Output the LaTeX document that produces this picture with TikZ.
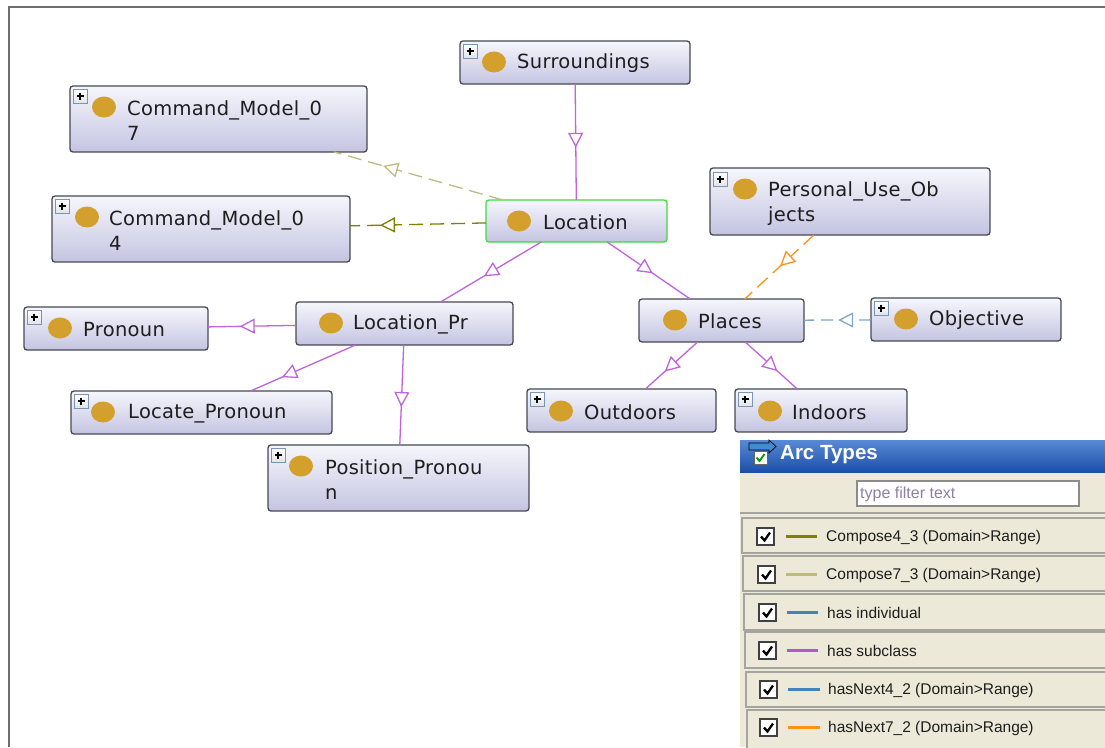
\documentclass[tikz,border=0pt]{standalone}
\usepackage{fontspec}
\usetikzlibrary{arrows.meta,decorations.markings,fit,calc}
\newfontfamily\dvs[LetterSpace=1.5]{DejaVu Sans}
\newfontfamily\lbs{Liberation Sans}
\definecolor{boxtop}{RGB}{246,246,252}
\definecolor{boxbot}{RGB}{196,196,226}
\definecolor{boxedge}{RGB}{72,72,84}
\definecolor{locedge}{RGB}{60,220,60}
\definecolor{txt}{RGB}{30,30,30}
\definecolor{gold}{RGB}{211,160,46}
\definecolor{subc}{RGB}{190,100,222}
\definecolor{oliv}{RGB}{128,128,0}
\definecolor{khak}{RGB}{189,187,125}
\definecolor{steel}{RGB}{70,130,180}
\definecolor{orng}{RGB}{255,145,20}
\definecolor{plusedge}{RGB}{120,150,180}
\definecolor{plusfill}{RGB}{225,228,232}
\definecolor{beige}{RGB}{236,233,216}
\definecolor{rowedge}{RGB}{165,165,160}
\definecolor{hdtop}{RGB}{88,138,214}
\definecolor{hdbot}{RGB}{28,78,168}
\definecolor{frame}{RGB}{110,110,110}
\definecolor{filt}{RGB}{140,130,160}
\tikzset{
  clsbox/.style={draw=boxedge, line width=1.3pt, rounded corners=3pt,
    top color=boxtop, bottom color=boxbot, inner sep=0pt, outer sep=0pt},
  lbl/.style={font=\dvs\fontsize{19.5}{25}\selectfont, text=txt, inner sep=0pt,
    anchor=west, align=left, yshift=-1.5pt},
  legtxt/.style={font=\lbs\fontsize{15.5}{18}\selectfont, text=txt, inner sep=0pt, anchor=west},
  midarrow/.style={postaction={decorate, decoration={markings,
    mark=at position #1 with {\arrow{Triangle[fill=white,length=15pt,width=15pt,line width=1.3pt]}}}}},
  subedge/.style={draw=subc, line width=1.3pt},
  olivedge/.style={draw=oliv, line width=1.3pt, dash pattern=on 14pt off 7pt},
  khakedge/.style={draw=khak, line width=1.3pt, dash pattern=on 14pt off 7pt},
  orngedge/.style={draw=orng, line width=1.3pt, dash pattern=on 14pt off 7pt},
  blueedge/.style={draw=steel!70, line width=1.3pt, dash pattern=on 12pt off 7pt},
  rowbox/.style={draw=rowedge, line width=1.5pt, fill=beige},
}
\newcommand\plusico[2]{%
  \draw[draw=plusedge, top color=white, bottom color=plusfill, line width=0.8pt] (#1,#2) rectangle ++(14,14);
  \draw[black, line width=1.5pt] (#1+3.5,#2+7) -- ++(7,0) (#1+7,#2+3.5) -- ++(0,7);}
\newcommand\golddot[2]{\fill[gold] (#1,#2) ellipse [x radius=12pt, y radius=10.5pt];}
\newcommand\chkbox[2]{%
  \draw[draw=black!75, fill=white, line width=1.2pt] (#1,#2) rectangle ++(17,17);
  \draw[black, line width=2.3pt] (#1+4,#2+8.5) -- (#1+7.5,#2+12.5) -- (#1+13,#2+4.5);}
\begin{document}
\begin{tikzpicture}[x=1pt,y=-1pt]
\useasboundingbox (0,0) rectangle (1105,747);
\fill[white] (0,0) rectangle (1105,747);
\draw[frame, line width=2pt] (9,747) -- (9,7) -- (1105,7);

% ---- class boxes
\node[clsbox, fit={(460,41) (690,84)}] (surr) {};
\node[clsbox, fit={(70,86) (367,152)}] (cm07) {};
\node[clsbox, fit={(52,196) (350,262)}] (cm04) {};
\node[clsbox, draw=locedge, fit={(486,200) (667,242)}] (loc) {};
\node[clsbox, fit={(710,168) (990,235)}] (puo) {};
\node[clsbox, fit={(24,307) (208,350)}] (pron) {};
\node[clsbox, fit={(296,302) (513,345)}] (lp) {};
\node[clsbox, fit={(639,299) (804,342)}] (places) {};
\node[clsbox, fit={(871,298) (1061,341)}] (obj) {};
\node[clsbox, fit={(71,391) (332,434)}] (locp) {};
\node[clsbox, fit={(527,389) (716,432)}] (out) {};
\node[clsbox, fit={(735,389) (907,432)}] (ind) {};
\node[clsbox, fit={(268,445) (529,511)}] (posp) {};

% ---- icons
\plusico{463}{44} \golddot{494}{62}
\plusico{73}{89}  \golddot{104}{107}
\plusico{55}{199} \golddot{87}{217}
\golddot{519}{221}
\plusico{713}{172} \golddot{745}{189}
\plusico{27}{310} \golddot{60}{328}
\golddot{331}{323}
\golddot{675}{320}
\plusico{874}{301} \golddot{906}{319}
\plusico{74}{394} \golddot{103}{412}
\plusico{530}{392} \golddot{561}{411}
\plusico{738}{392} \golddot{770}{411}
\plusico{271}{448} \golddot{301}{466}

% ---- labels
\node[lbl] (surr-t) at (517,62) {Surroundings};
\node[lbl] (cm07-t) at (127,119) {Command\_Model\_0\\7};
\node[lbl] (cm04-t) at (109,229.5) {Command\_Model\_0\\4};
\node[lbl] (loc-t) at (543,221) {Location};
\node[lbl] (puo-t) at (768,202) {Personal\_Use\_Ob\\jects};
\node[lbl] (pron-t) at (83,328) {Pronoun};
\node[lbl] (lp-t) at (353,323) {Location\_Pr};
\node[lbl] (places-t) at (698,320) {Places};
\node[lbl] (obj-t) at (929,319) {Objective};
\node[lbl] (locp-t) at (128,412) {Locate\_Pronoun};
\node[lbl] (out-t) at (584,411) {Outdoors};
\node[lbl] (ind-t) at (792,411) {Indoors};
\node[lbl] (posp-t) at (325,478.5) {Position\_Pronou\\n};

% ---- connectors
\draw[subedge, midarrow=0.55] (surr) -- (loc);
\draw[khakedge, midarrow=0.71] (loc) -- (cm07);
\draw[olivedge, midarrow=0.78] (loc) -- (cm04);
\draw[subedge, midarrow=0.57] (loc) -- (lp);
\draw[subedge, midarrow=0.55] (loc) -- (places);
\draw[subedge, midarrow=0.64] (lp) -- (pron);
\draw[subedge, midarrow=0.70] (lp) -- (locp);
\draw[subedge, midarrow=0.62] (lp) -- (posp);
\draw[subedge, midarrow=0.63] (places) -- (out);
\draw[subedge, midarrow=0.62] (places) -- (ind);
\draw[orngedge, midarrow=0.49] (puo) -- (places);
\draw[blueedge, midarrow=0.49] (obj) -- (places);

% ---- legend panel
\fill[beige] (740,472) rectangle (1105,747);
\node[fit={(740,440) (1105,472)}, inner sep=0pt, outer sep=0pt, top color=hdtop, bottom color=hdbot] (hdr) {};
\draw[black, fill=cyan!60!blue!80, line width=0.7pt] (749,443) -- (769,443) -- (769,440) -- (776,446.5) -- (769,453) -- (769,450) -- (749,450) -- cycle;
\draw[draw=black!60, fill=white, line width=0.8pt] (754,451) rectangle (767,464);
\draw[green!60!black, line width=1.8pt] (756.5,457.5) -- (759.5,461) -- (764.5,454);
\node[font=\lbs\bfseries\fontsize{20.5}{24}\selectfont, text=white, inner sep=0pt, anchor=west] (hdr-t) at (780,455) {Arc Types};
\node[draw=black!45, line width=1.5pt, fill=white, inner sep=0pt, fit={(857,481) (1079,506)}] (filter) {};
\node[font=\lbs\fontsize{16}{18}\selectfont, text=filt, inner sep=0pt, anchor=west] (filter-t) at (860,494) {type filter text};
\draw[rowedge, line width=1.5pt] (740,513) -- (1105,513);

\node[rowbox, fit={(742,518) (1110,553)}, inner sep=0pt] (r1) {};
\node[rowbox, fit={(743,556) (1110,591)}, inner sep=0pt] (r2) {};
\node[rowbox, fit={(744,594) (1110,630)}, inner sep=0pt] (r3) {};
\node[rowbox, fit={(745,632) (1110,668)}, inner sep=0pt] (r4) {};
\node[rowbox, fit={(746,672) (1110,707)}, inner sep=0pt] (r5) {};
\node[rowbox, fit={(747,710) (1110,752)}, inner sep=0pt] (r6) {};

\chkbox{757}{528} \draw[oliv, line width=3pt] (786,536.5) -- (817,536.5);
\node[legtxt] (l1) at (826,537) {Compose4\_3 (Domain>Range)};
\chkbox{758}{566} \draw[khak, line width=3pt] (786,574.5) -- (817,574.5);
\node[legtxt] (l2) at (826,575) {Compose7\_3 (Domain>Range)};
\chkbox{759}{604} \draw[steel, line width=3pt] (787,612.5) -- (818,612.5);
\node[legtxt] (l3) at (827,613) {has individual};
\chkbox{759}{642} \draw[subc!90!black, line width=3pt] (787,650.5) -- (818,650.5);
\node[legtxt] (l4) at (827,651) {has subclass};
\chkbox{760}{681} \draw[steel, line width=3pt] (788,689.5) -- (820,689.5);
\node[legtxt] (l5) at (828,690) {hasNext4\_2 (Domain>Range)};
\chkbox{760}{719} \draw[orng, line width=3pt] (788,727.5) -- (820,727.5);
\node[legtxt] (l6) at (828,728) {hasNext7\_2 (Domain>Range)};
\end{tikzpicture}
\end{document}
